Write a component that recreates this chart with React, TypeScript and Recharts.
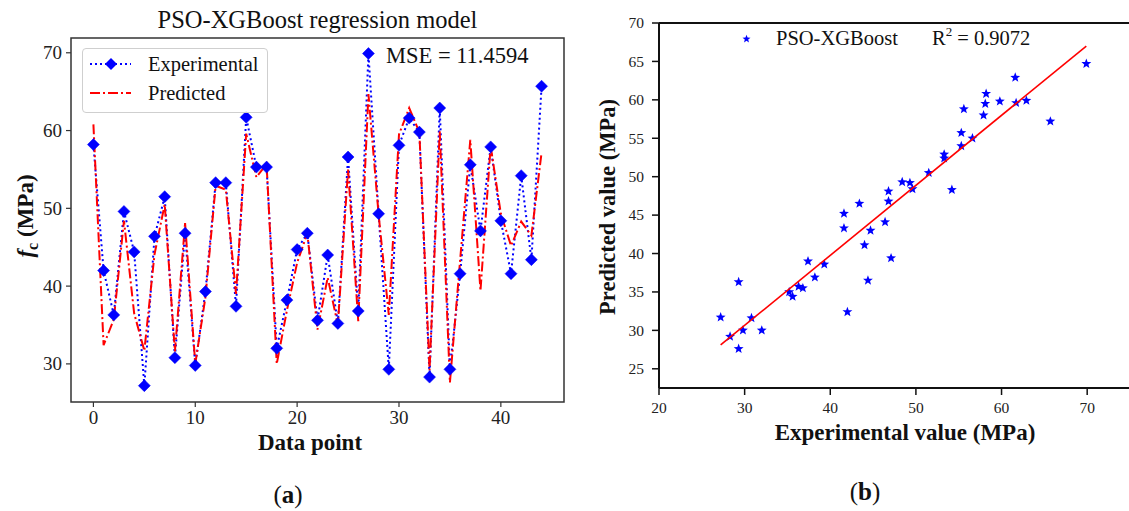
import React from 'react';
import {
  LineChart,
  Line,
  XAxis,
  YAxis,
  ScatterChart,
  Scatter,
  ReferenceArea,
  ReferenceLine,
  Legend,
} from 'recharts';

const SERIF = '"Liberation Serif", "Times New Roman", serif';

// ---- data ----
const dataPoints = [
  0, 1, 2, 3, 4, 5, 6, 7, 8, 9, 10, 11, 12, 13, 14, 15, 16, 17, 18, 19, 20, 21, 22,
  23, 24, 25, 26, 27, 28, 29, 30, 31, 32, 33, 34, 35, 36, 37, 38, 39, 40, 41, 42, 43, 44,
];
const experimental = [
  58.2, 42.0, 36.3, 49.6, 44.4, 27.2, 46.4, 51.5, 30.8, 46.8, 29.8, 39.3, 53.3, 53.3, 37.4,
  61.7, 55.3, 55.3, 32.0, 38.2, 44.7, 46.8, 35.6, 44.0, 35.2, 56.6, 36.8, 69.9, 49.3, 29.3,
  58.1, 61.6, 59.8, 28.3, 62.9, 29.3, 41.6, 55.6, 47.1, 57.9, 48.4, 41.6, 54.2, 43.4, 65.7,
];
const predicted = [
  60.8, 32.4, 35.7, 48.4, 36.5, 31.7, 44.1, 50.5, 31.6, 48.1, 30.0, 38.6, 52.9, 52.4, 39.0,
  59.6, 54.0, 55.7, 30.0, 36.9, 43.0, 46.8, 34.4, 41.1, 35.0, 55.0, 35.5, 64.7, 49.2, 36.3,
  59.5, 62.9, 59.8, 29.2, 59.9, 27.6, 43.3, 58.8, 39.4, 58.0, 49.3, 45.2, 48.3, 46.5, 57.2,
];
const fitX = [27.2, 69.9];
const fitY = [28.1, 67.0];

const leftXTicks = [0, 10, 20, 30, 40];
const leftYTicks = [30, 40, 50, 60, 70];
const rightXTicks = [20, 30, 40, 50, 60, 70];
const rightYTicks = [25, 30, 35, 40, 45, 50, 55, 60, 65, 70];

const mseText = 'MSE = 11.4594';
const r2Value = '0.9072';

const lineRows = dataPoints.map((x, i) => ({ x, experimental: experimental[i], predicted: predicted[i] }));
const scatterRows = experimental.map((e, i) => ({ x: e, y: predicted[i] }));
const fitRows = fitX.map((x, i) => ({ x, y: fitY[i] }));

// ---- shapes ----
const diamondPoints = (cx: number, cy: number, r: number) =>
  `${cx},${cy - r} ${cx + r},${cy} ${cx},${cy + r} ${cx - r},${cy}`;

const renderDiamond = (props: any) => {
  const { cx, cy, index } = props;
  if (cx == null || cy == null) return <g key={`d-${index}`} />;
  return <polygon key={`d-${index}`} points={diamondPoints(cx, cy, 6)} fill="#0000ff" stroke="#0000ff" strokeWidth={0.5} />;
};

const starPoints = (cx: number, cy: number, R: number, r: number) => {
  const pts: string[] = [];
  for (let k = 0; k < 10; k++) {
    const rad = k % 2 === 0 ? R : r;
    const a = -Math.PI / 2 + (k * Math.PI) / 5;
    pts.push(`${(cx + rad * Math.cos(a)).toFixed(2)},${(cy + rad * Math.sin(a)).toFixed(2)}`);
  }
  return pts.join(' ');
};

const StarShape = (props: any) => {
  const { cx, cy } = props;
  if (cx == null || cy == null) return <g />;
  return <polygon points={starPoints(cx, cy, 5.2, 2.2)} fill="#0000ff" />;
};

const NoShape = () => <g />;

// ---- ticks ----
const makeXTick = (size: number) => (props: any) => {
  const { x, y, payload, index } = props;
  return (
    <text key={`xt-${index}`} x={x} y={y} dy={size * 0.71} textAnchor="middle" fontFamily={SERIF} fontSize={size} fill="#222">
      {payload.value}
    </text>
  );
};
const makeYTick = (size: number) => (props: any) => {
  const { x, y, payload, index } = props;
  return (
    <text key={`yt-${index}`} x={x} y={y} dy={size * 0.34} textAnchor="end" fontFamily={SERIF} fontSize={size} fill="#222">
      {payload.value}
    </text>
  );
};
const leftXTick = makeXTick(19);
const leftYTick = makeYTick(19);
const rightXTick = makeXTick(15.5);
const rightYTick = makeYTick(15.5);

// ---- labels ----
const LeftYLabel = () => (
  <text
    x={33}
    y={216}
    transform="rotate(-90, 33, 216)"
    textAnchor="middle"
    fontFamily={SERIF}
    fontWeight="bold"
    fontSize={23}
    fill="#111"
  >
    <tspan fontStyle="italic">f</tspan>
    <tspan fontSize={16} dy={5}>c</tspan>
    <tspan dy={-5}>{'  (MPa)'}</tspan>
  </text>
);

const LeftXLabel = () => (
  <text x={310} y={450} textAnchor="middle" fontFamily={SERIF} fontWeight="bold" fontSize={23} fill="#111">
    Data point
  </text>
);

const RightYLabel = () => (
  <text
    x={25}
    y={207}
    transform="rotate(-90, 25, 207)"
    textAnchor="middle"
    fontFamily={SERIF}
    fontWeight="bold"
    fontSize={22.5}
    fill="#111"
  >
    Predicted value (MPa)
  </text>
);

const RightXLabel = () => (
  <text x={315} y={440} textAnchor="middle" fontFamily={SERIF} fontWeight="bold" fontSize={23} fill="#111">
    Experimental value (MPa)
  </text>
);

const LeftLegend = () => (
  <div
    style={{
      width: 186,
      height: 65,
      boxSizing: 'border-box',
      border: '1px solid #cfcfcf',
      borderRadius: 4,
      background: 'rgba(255,255,255,0.85)',
    }}
  >
    <svg width={184} height={63} style={{ display: 'block' }}>
      <line x1={7} y1={15} x2={48} y2={15} stroke="#0000ff" strokeWidth={2} strokeDasharray="2 3" />
      <polygon points={diamondPoints(28, 15, 6)} fill="#0000ff" />
      <text x={65} y={22} fontFamily={SERIF} fontSize={20.5} fill="#111">Experimental</text>
      <line x1={7} y1={44} x2={48} y2={44} stroke="#ff0000" strokeWidth={2} strokeDasharray="10 3 2 3" />
      <text x={65} y={51} fontFamily={SERIF} fontSize={20.5} fill="#111">Predicted</text>
    </svg>
  </div>
);

const RightLegend = () => (
  <svg width={320} height={30} style={{ display: 'block' }}>
    <polygon points={starPoints(6.5, 15, 4.2, 1.8)} fill="#0000ff" />
    <text x={36} y={21} fontFamily={SERIF} fontSize={20.5} fill="#111">PSO-XGBoost</text>
    <text x={192} y={21} fontFamily={SERIF} fontSize={20.5} fill="#111">
      R<tspan fontSize={13} dy={-9}>2</tspan>
      <tspan dy={9}>{` = ${r2Value}`}</tspan>
    </text>
  </svg>
);

export default function App() {
  return (
    <div
      style={{
        position: 'absolute',
        left: 0,
        top: 0,
        width: 1129,
        height: 511,
        overflow: 'hidden',
        background: '#ffffff',
        fontFamily: SERIF,
      }}
    >
      {/* (a) PSO-XGBoost regression model */}
      <div style={{ position: 'absolute', left: 0, top: 0 }}>
        <LineChart
          width={600}
          height={511}
          data={lineRows}
          margin={{ top: 38, right: 36, left: 11, bottom: 79 }}
        >
          <XAxis
            dataKey="x"
            type="number"
            domain={[-2.2, 46.2]}
            allowDataOverflow
            ticks={leftXTicks}
            axisLine={false}
            tickSize={5}
            tickMargin={4}
            tickLine={{ stroke: '#333', strokeWidth: 1.2 }}
            tick={leftXTick}
            height={30}
            label={<LeftXLabel />}
          />
          <YAxis
            type="number"
            domain={[25.1, 71.9]}
            allowDataOverflow
            ticks={leftYTicks}
            axisLine={false}
            tickSize={5}
            tickMargin={4}
            tickLine={{ stroke: '#333', strokeWidth: 1.2 }}
            tick={leftYTick}
            width={60}
            label={<LeftYLabel />}
          />
          <ReferenceArea
            x1={-2.2}
            x2={46.2}
            y1={25.1}
            y2={71.9}
            fill="none"
            fillOpacity={0}
            stroke="#333"
            strokeWidth={1.5}
          />
          <Line
            type="linear"
            dataKey="experimental"
            stroke="#0000ff"
            strokeWidth={2}
            strokeDasharray="2 3"
            dot={renderDiamond}
            activeDot={false}
            isAnimationActive={false}
          />
          <Line
            type="linear"
            dataKey="predicted"
            stroke="#ff0000"
            strokeWidth={2}
            strokeDasharray="10 3 2 3"
            dot={false}
            activeDot={false}
            isAnimationActive={false}
          />
          <Legend
            layout="vertical"
            align="center"
            verticalAlign="middle"
            wrapperStyle={{ left: 82, top: 48, width: 186, height: 65 }}
            content={<LeftLegend />}
          />
        </LineChart>
      </div>

      {/* (b) scatter */}
      <div style={{ position: 'absolute', left: 590, top: 0 }}>
        <ScatterChart width={550} height={511} margin={{ top: 23, right: 10, left: 19, bottom: 93 }}>
          <XAxis
            dataKey="x"
            type="number"
            domain={[20, 75]}
            allowDataOverflow
            ticks={rightXTicks}
            axisLine={{ stroke: '#111', strokeWidth: 2 }}
            tickSize={7}
            tickMargin={7}
            tickLine={{ stroke: '#111', strokeWidth: 1.5 }}
            tick={rightXTick}
            height={30}
            label={<RightXLabel />}
          />
          <YAxis
            dataKey="y"
            type="number"
            domain={[22.5, 70]}
            allowDataOverflow
            ticks={rightYTicks}
            axisLine={{ stroke: '#111', strokeWidth: 2 }}
            tickSize={7}
            tickMargin={8}
            tickLine={{ stroke: '#111', strokeWidth: 1.5 }}
            tick={rightYTick}
            width={50}
            label={<RightYLabel />}
          />
          <ReferenceLine y={70} stroke="#111" strokeWidth={2} />
          <Scatter data={scatterRows} shape={<StarShape />} isAnimationActive={false} />
          <Scatter
            data={fitRows}
            line={{ stroke: '#ff0000', strokeWidth: 1.6 }}
            shape={<NoShape />}
            isAnimationActive={false}
          />
          <Legend
            layout="vertical"
            align="center"
            verticalAlign="middle"
            wrapperStyle={{ left: 150, top: 24, width: 320, height: 30 }}
            content={<RightLegend />}
          />
        </ScatterChart>
      </div>

      {/* titles, annotations and captions */}
      <svg
        width={1129}
        height={511}
        style={{ position: 'absolute', left: 0, top: 0, pointerEvents: 'none' }}
      >
        <text x={317.5} y={28} textAnchor="middle" fontFamily={SERIF} fontSize={24.5} fill="#111">
          PSO-XGBoost regression model
        </text>
        <text x={386} y={63} fontFamily={SERIF} fontSize={22.5} fill="#111">
          {mseText}
        </text>
        <text x={288} y={503} textAnchor="middle" fontFamily={SERIF} fontSize={25} fill="#111">
          (<tspan fontWeight="bold">a</tspan>)
        </text>
        <text x={865} y={500} textAnchor="middle" fontFamily={SERIF} fontSize={25} fill="#111">
          (<tspan fontWeight="bold">b</tspan>)
        </text>
      </svg>
    </div>
  );
}
